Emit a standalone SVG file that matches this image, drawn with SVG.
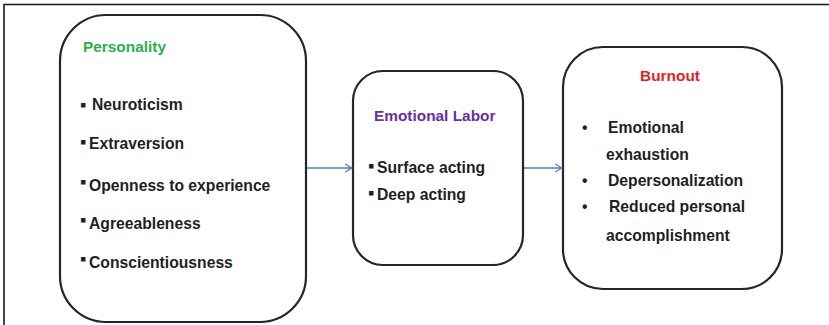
<svg xmlns="http://www.w3.org/2000/svg" width="829" height="325" viewBox="0 0 829 325">
  <defs>
    <marker id="arrow" markerWidth="10" markerHeight="10" refX="8" refY="5" orient="auto" markerUnits="userSpaceOnUse">
      <path d="M1,1 L8,5 L1,9" fill="none" stroke="#4f81bd" stroke-width="1.3"/>
    </marker>
  </defs>
  <style>
    .box { fill: #ffffff; stroke: #262626; stroke-width: 2.2; }
    .frame { fill: none; stroke: #1a1a1a; stroke-width: 1.6; }
    .item { font-family: "Liberation Sans", Arial, sans-serif; font-weight: bold; font-size: 15.7px; fill: #1f1f1f; }
    .sq { font-size: 18px; }
    .title { font-family: "Liberation Sans", Arial, sans-serif; font-weight: bold; font-size: 15.4px; }
    .link { stroke: #4f81bd; stroke-width: 1.3; fill: none; }
  </style>
  <rect width="829" height="325" fill="#ffffff"/>
  <!-- outer frame -->
  <path class="frame" d="M4,325 L4,4.5 L829,4.5"/>

  <g id="personality">
    <rect class="box" x="60" y="15" width="246" height="307" rx="46" ry="46"/>
    <text class="title" x="83" y="52" fill="#2bb04a">Personality</text>
    <text class="item" y="110"><tspan class="sq" x="80" dy="1">▪</tspan><tspan x="92" dy="-1">Neuroticism</tspan></text>
    <text class="item" y="149"><tspan class="sq" x="80" dy="-1">▪</tspan><tspan x="89" dy="1">Extraversion</tspan></text>
    <text class="item" y="191"><tspan class="sq" x="80" dy="-3">▪</tspan><tspan x="89" dy="3">Openness to experience</tspan></text>
    <text class="item" y="229"><tspan class="sq" x="80" dy="-3">▪</tspan><tspan x="89" dy="3">Agreeableness</tspan></text>
    <text class="item" y="268"><tspan class="sq" x="80" dy="-3">▪</tspan><tspan x="89" dy="3">Conscientiousness</tspan></text>
  </g>

  <g id="emotional-labor">
    <rect class="box" x="353" y="71" width="170" height="194" rx="30" ry="30"/>
    <text class="title" x="374" y="121" fill="#6a2fa0">Emotional Labor</text>
    <text class="item" y="173"><tspan class="sq" x="368" dy="-1">▪</tspan><tspan x="377" dy="1">Surface acting</tspan></text>
    <text class="item" y="200"><tspan class="sq" x="368" dy="-1">▪</tspan><tspan x="377" dy="1">Deep acting</tspan></text>
  </g>

  <g id="burnout">
    <rect class="box" x="563" y="47" width="219" height="242" rx="40" ry="40"/>
    <text class="title" x="670" y="81" fill="#e02424" text-anchor="middle">Burnout</text>
    <text class="item" x="582" y="133">•</text>
    <text class="item" x="608" y="133">Emotional</text>
    <text class="item" x="606" y="160">exhaustion</text>
    <text class="item" x="582" y="186">•</text>
    <text class="item" x="608" y="186">Depersonalization</text>
    <text class="item" x="582" y="212">•</text>
    <text class="item" x="609" y="212">Reduced personal</text>
    <text class="item" x="606" y="241">accomplishment</text>
  </g>

  <g id="connectors">
    <line class="link" x1="307" y1="168" x2="352" y2="168" marker-end="url(#arrow)"/>
    <line class="link" x1="524" y1="168" x2="562" y2="168" marker-end="url(#arrow)"/>
  </g>
</svg>
